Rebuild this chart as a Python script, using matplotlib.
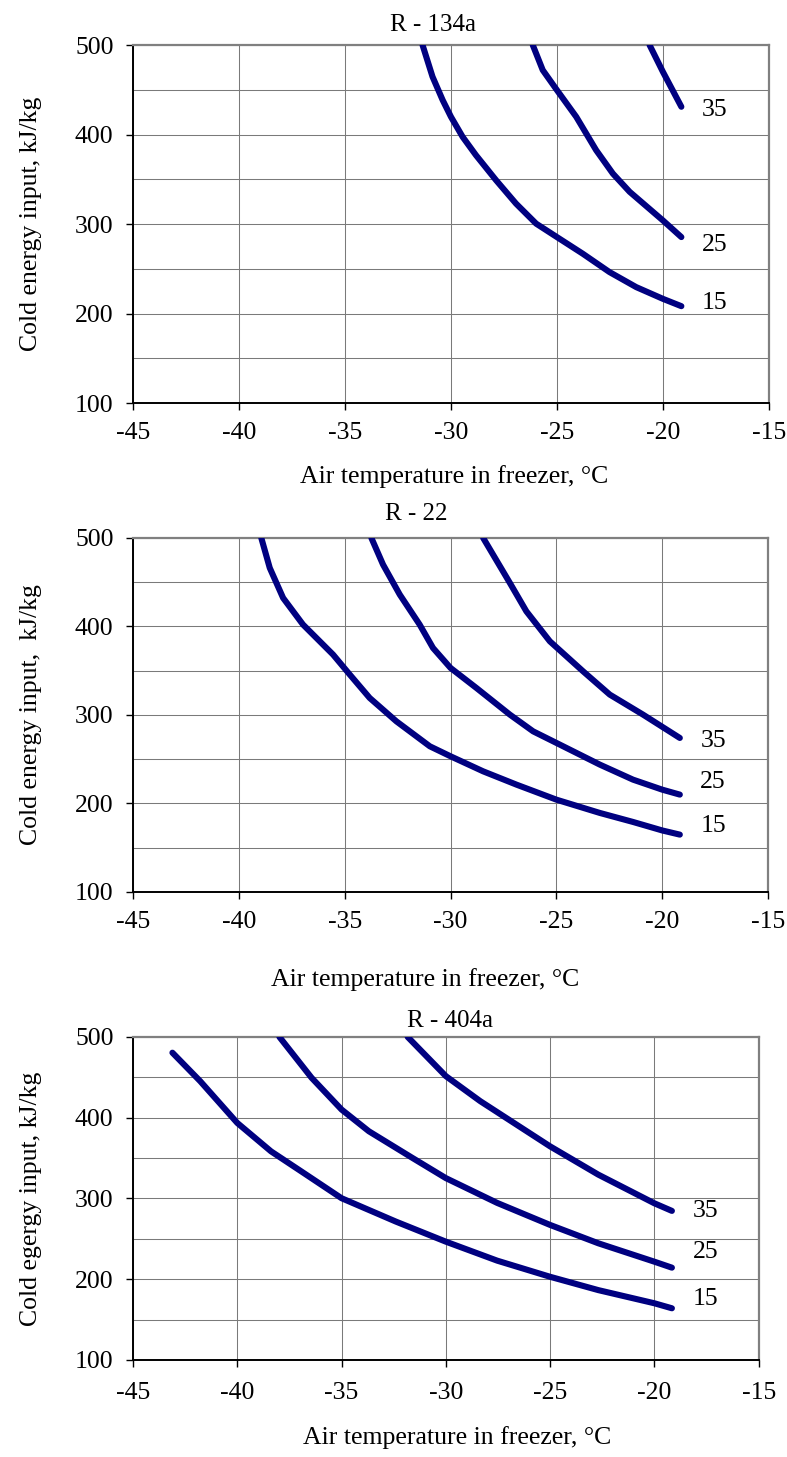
import matplotlib
matplotlib.use("Agg")
import matplotlib.pyplot as plt
from matplotlib.ticker import MultipleLocator

plt.rcParams["font.family"] = ["Liberation Serif", "DejaVu Serif"]
plt.rcParams["font.size"] = 18.5
plt.rcParams["axes.unicode_minus"] = False

# refrigerant panels
titles = ["R - 134a", "R - 22", "R - 404a"]
ylabels = ["Cold energy input, kJ/kg", "Cold energy input,  kJ/kg", "Cold egergy input, kJ/kg"]
xlabel = "Air temperature in freezer, \u00b0C"
curve_names = ["15", "25", "35"]

# R-134a
t134_15 = [-31.34, -30.87, -30.39, -30.0, -29.45, -28.82, -27.87, -26.93, -25.98, -25.0, -23.78, -22.52, -21.26, -20.0, -19.13]
e134_15 = [500, 464.6, 438.4, 419.8, 397.4, 376.9, 348.9, 322.8, 300.4, 285.4, 266.8, 246.3, 229.5, 216.4, 208.2]
t134_25 = [-26.14, -25.67, -25.0, -24.09, -23.15, -22.36, -21.57, -20.0, -19.13]
e134_25 = [500, 472, 449.6, 419.8, 382.5, 356.3, 336, 304, 285.4]
t134_35 = [-20.63, -20.0, -19.13]
e134_35 = [500, 470, 431]

# R-22
t22_15 = [-38.94, -38.54, -37.91, -36.97, -35.55, -34.76, -33.82, -32.56, -30.98, -30.0, -28.46, -26.89, -25.0, -22.95, -21.38, -20.0, -19.17]
e22_15 = [500, 466.1, 432.2, 402.1, 368.2, 345.6, 319.2, 292.8, 264.6, 253.3, 236.3, 221.3, 204.3, 189.3, 179.1, 169.5, 164.8]
t22_25 = [-33.74, -33.19, -32.4, -31.46, -30.83, -30.0, -28.78, -27.2, -26.1, -25.0, -22.95, -21.38, -20.0, -19.17]
e22_25 = [500, 469.9, 436, 402.1, 375.7, 353.1, 330.5, 300.4, 281.5, 268.4, 243.9, 226.9, 215.6, 210]
t22_35 = [-28.46, -27.2, -26.42, -25.31, -23.74, -22.48, -20.91, -19.17]
e22_35 = [500, 449.2, 417.1, 383.2, 349.3, 323, 300.4, 274]

# R-404a
t404_15 = [-43.11, -41.78, -40.0, -38.38, -36.93, -35.0, -32.39, -30.0, -27.54, -25.0, -22.69, -20.0, -19.16]
e404_15 = [480.5, 445.3, 393.5, 358.3, 333.5, 300.3, 271.3, 246.5, 223, 203, 186.5, 170.2, 164]
t404_25 = [-37.98, -36.44, -35.0, -33.69, -31.59, -30.0, -27.54, -25.0, -22.69, -20.0, -19.16]
e404_25 = [500, 449.5, 410.1, 383.2, 350.0, 325.2, 294.5, 267.2, 244.5, 221.7, 214.3]
t404_35 = [-31.83, -30.0, -28.35, -25.0, -22.69, -20.0, -19.16]
e404_35 = [500, 451.5, 420.5, 364.5, 329.5, 294, 284.6]

panels = [
    [(t134_15, e134_15), (t134_25, e134_25), (t134_35, e134_35)],
    [(t22_15, e22_15), (t22_25, e22_25), (t22_35, e22_35)],
    [(t404_15, e404_15), (t404_25, e404_25), (t404_35, e404_35)],
]

# layout (figure fractions) and label tweaks
rects = [
    [0.169, 0.7234, 0.808, 0.2457],
    [0.169, 0.3878, 0.807, 0.2430],
    [0.169, 0.0666, 0.795, 0.2217],
]
title_x = [0.472, 0.446, 0.506]
title_pad = [10, 13, 7]
xlabel_x = [0.505, 0.46, 0.518]
xlabel_pad = [15, 25, 16]
label_dy = [[2, -6, -2], [6, 9, -2], [7, 11, 0]]

fig = plt.figure(figsize=(7.87, 14.57), dpi=100)

for i in range(3):
    ax = fig.add_axes(rects[i])
    for j, (t, e) in enumerate(panels[i]):
        ax.plot(t, e, color="#000080", lw=4.4, solid_capstyle="round",
                solid_joinstyle="round", zorder=3)
        ax.annotate(curve_names[j], xy=(t[-1], e[-1]),
                    xytext=(24, label_dy[i][j]), textcoords="offset points",
                    ha="center", va="center")
    ax.set_xlim(-45, -15)
    ax.set_ylim(100, 500)
    ax.xaxis.set_major_locator(MultipleLocator(5))
    ax.yaxis.set_major_locator(MultipleLocator(100))
    ax.yaxis.set_minor_locator(MultipleLocator(50))
    ax.grid(True, which="major", color="#7a7a7a", lw=0.75)
    ax.grid(True, which="minor", axis="y", color="#7a7a7a", lw=0.75)
    ax.tick_params(which="major", direction="out", length=5, width=1, pad=9)
    ax.tick_params(which="minor", length=0)
    ax.tick_params(axis="y", pad=9)
    if i == 2:
        ax.tick_params(axis="x", pad=11)
    for s in ["left", "bottom"]:
        ax.spines[s].set_color("black")
        ax.spines[s].set_linewidth(1.4)
    for s in ["top", "right"]:
        ax.spines[s].set_color("#808080")
        ax.spines[s].set_linewidth(1.6)
    ax.set_title(titles[i], x=title_x[i], pad=title_pad[i], fontsize=18)
    ax.set_ylabel(ylabels[i], labelpad=24)
    ax.set_xlabel(xlabel, labelpad=xlabel_pad[i])
    ax.xaxis.label.set_x(xlabel_x[i])

fig.savefig("out.png", dpi=100)
